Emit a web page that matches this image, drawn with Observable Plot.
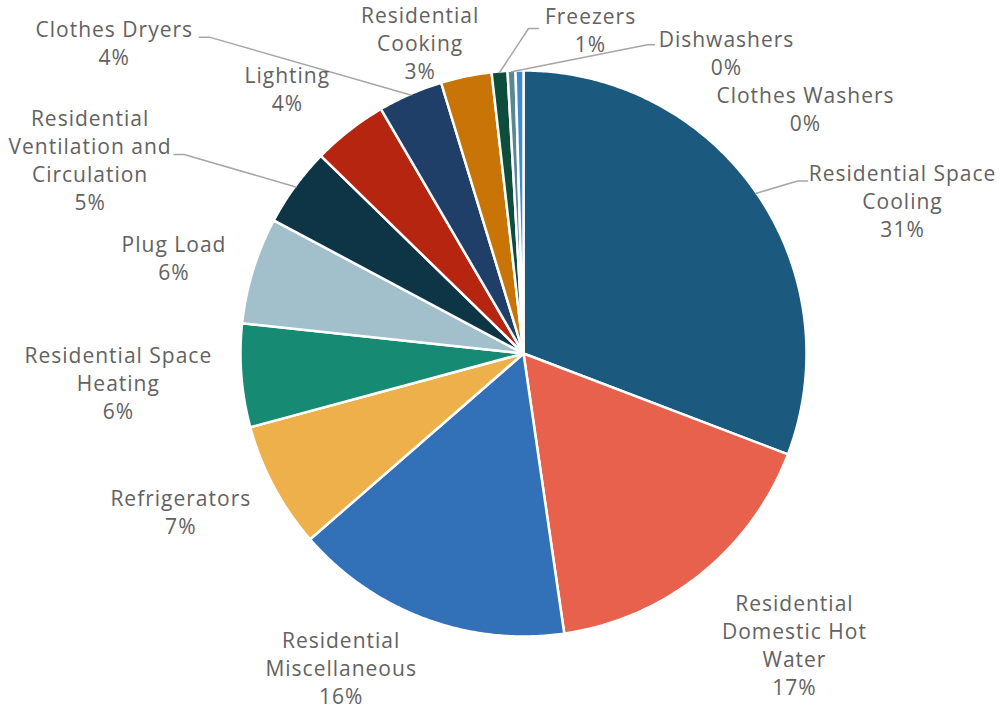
<!DOCTYPE html>
<html>
<head>
<meta charset="utf-8">
<script src="https://cdn.jsdelivr.net/npm/d3@7"></script>
<script src="https://cdn.jsdelivr.net/npm/@observablehq/plot@0.6"></script>
<style>
  html, body { margin: 0; padding: 0; background: #ffffff; }
  #chart { width: 1002px; height: 713px; }
</style>
</head>
<body>
<div id="chart"></div>
<script>
// ---------- data ----------
const categories = [
  "Residential Space Cooling", "Residential Domestic Hot Water", "Residential Miscellaneous",
  "Refrigerators", "Residential Space Heating", "Plug Load",
  "Residential Ventilation and Circulation", "Lighting", "Clothes Dryers",
  "Residential Cooking", "Freezers", "Dishwashers", "Clothes Washers"
];
const labelText = [
  "Residential Space\nCooling", "Residential\nDomestic Hot\nWater", "Residential\nMiscellaneous",
  "Refrigerators", "Residential Space\nHeating", "Plug Load",
  "Residential\nVentilation and\nCirculation", "Lighting", "Clothes Dryers",
  "Residential\nCooking", "Freezers", "Dishwashers", "Clothes Washers"
];
const shares = [30.8, 16.9, 15.9, 7.2, 5.9, 6.1, 4.5, 4.3, 3.7, 2.9, 0.9, 0.45, 0.45];

// ---------- styles ----------
const palette = [
  "#1b5a7e", "#e8614d", "#3271b8", "#eeb04a", "#168a72", "#a2bfcc",
  "#0e3546", "#b5250f", "#1f3e68", "#c87406", "#0e4d3b", "#5b8793", "#3c8bd2"
];

// ---------- layout ----------
const W = 1002, H = 713;
const cx = 523, cy = 353, R = 283;
// label block centre offset from the slice's outer edge point (px)
const labelNudge = {
  "Residential Space Cooling": [146, 7],
  "Residential Domestic Hot Water": [94, 70],
  "Residential Miscellaneous": [-84, 48],
  "Refrigerators": [-93, 24],
  "Residential Space Heating": [-123, 6],
  "Plug Load": [-79, -13],
  "Residential Ventilation and Circulation": [-205, -27],
  "Lighting": [-62, -42],
  "Clothes Dryers": [-296, -52],
  "Residential Cooking": [-46, -34],
  "Freezers": [91, -42],
  "Dishwashers": [215, -19],
  "Clothes Washers": [286, 38]
};
// leader line end relative to label centre, and horizontal stub length
const leaderEnd = {
  "Residential Space Cooling": [-95, -19, -10],
  "Clothes Dryers": [85, -5, 10],
  "Residential Ventilation and Circulation": [84, -5, 10],
  "Freezers": [-52, -1, -10],
  "Dishwashers": [-72, -7, -7]
};

// ---------- derived ----------
const total = d3.sum(shares);
let cum = 0;
const slices = categories.map((name, i) => {
  const a0 = cum / total * 2 * Math.PI;
  cum += shares[i];
  const a1 = cum / total * 2 * Math.PI;
  return {name, value: shares[i], label: labelText[i], a0, a1, mid: (a0 + a1) / 2};
});

const polar = (a, r) => [r * Math.sin(a), -r * Math.cos(a)];

const slicePts = [];
for (const s of slices) {
  slicePts.push({name: s.name, x: 0, y: 0});
  const n = Math.max(2, Math.ceil((s.a1 - s.a0) / (Math.PI / 360)));
  for (let k = 0; k <= n; k++) {
    const a = s.a0 + (s.a1 - s.a0) * k / n;
    const [x, y] = polar(a, R);
    slicePts.push({name: s.name, x, y});
  }
  slicePts.push({name: s.name, x: 0, y: 0});
}

const labels = slices.map(s => {
  const [ex, ey] = polar(s.mid, R);
  const [dx, dy] = labelNudge[s.name];
  return {name: s.name, x: ex + dx, y: ey + dy,
          text: s.label + "\n" + Math.round(s.value) + "%"};
});

const leaderPts = [];
for (const s of slices) {
  const le = leaderEnd[s.name];
  if (!le) continue;
  const [ex, ey] = polar(s.mid, R - 1);
  const lab = labels.find(l => l.name === s.name);
  const endX = lab.x + le[0], endY = lab.y + le[1];
  leaderPts.push({name: s.name, x: ex, y: ey});
  leaderPts.push({name: s.name, x: endX + le[2], y: endY});
  leaderPts.push({name: s.name, x: endX, y: endY});
}

const chart = Plot.plot({
  width: W,
  height: H,
  margin: 0,
  x: {domain: [-cx, W - cx], range: [0, W], axis: null},
  y: {domain: [-cy, H - cy], range: [0, H], axis: null},
  color: {domain: categories, range: palette},
  style: {background: "#ffffff", fontFamily: "'Open Sans', Lato, sans-serif", letterSpacing: "1px"},
  marks: [
    Plot.line(slicePts, {
      x: "x", y: "y", z: "name", fill: "name",
      stroke: "#ffffff", strokeWidth: 2.5, strokeLinejoin: "round", curve: "linear"
    }),
    Plot.line(leaderPts, {
      x: "x", y: "y", z: "name", stroke: "#a6a6a6", strokeWidth: 1.5, curve: "linear"
    }),
    Plot.text(labels, {
      x: "x", y: "y", text: "text", fontSize: 21, lineHeight: 28 / 21,
      fill: "#626262", textAnchor: "middle"
    })
  ]
});
document.getElementById("chart").appendChild(chart);
</script>
</body>
</html>
